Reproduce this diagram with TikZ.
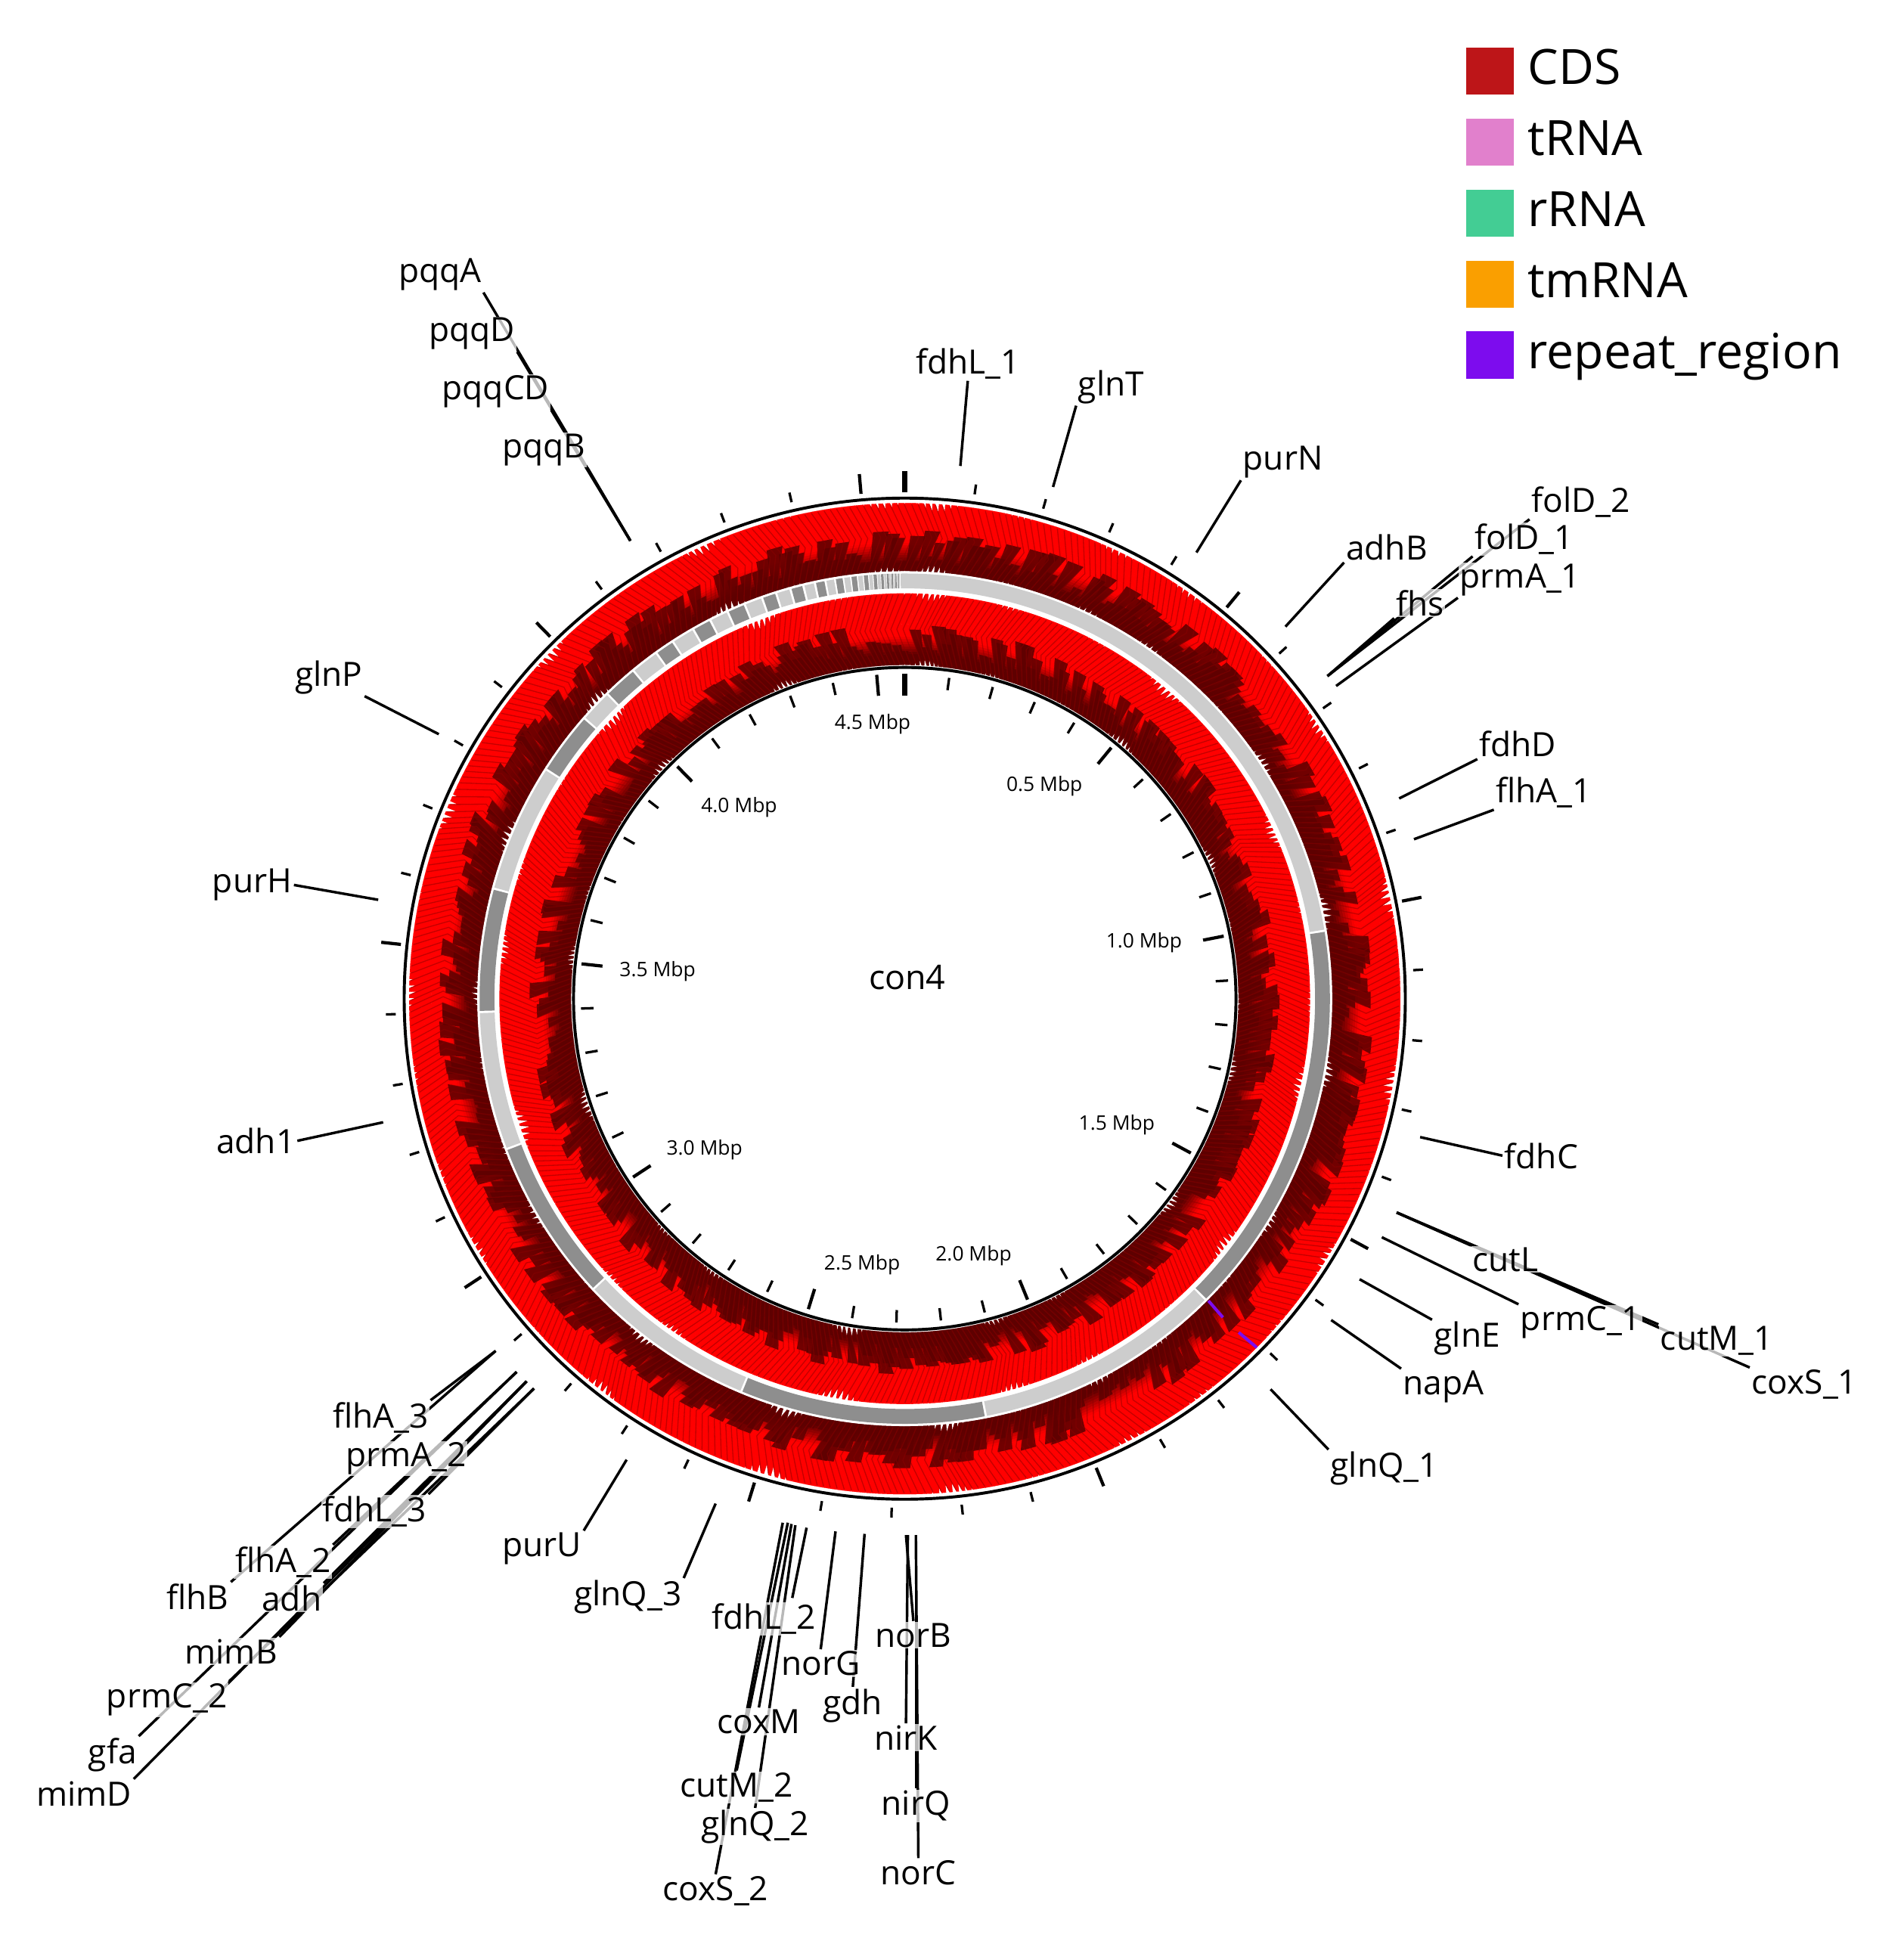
\documentclass[tikz,border=0pt]{standalone}
\usepackage{fontspec}
\setmainfont{Open Sans}
\usetikzlibrary{calc}
\pgfdeclarelayer{bg}
\pgfsetlayers{bg,main}
\definecolor{cdsred}{HTML}{FF0000}
\definecolor{cdsdark}{HTML}{5E0000}
\definecolor{chevc}{HTML}{8A0000}
\definecolor{lgray}{HTML}{CDCDCD}
\definecolor{dgray}{HTML}{8E8E8E}
\definecolor{legCDS}{HTML}{BD1518}
\definecolor{legtRNA}{HTML}{E180CC}
\definecolor{legrRNA}{HTML}{43CD94}
\definecolor{legtmRNA}{HTML}{FA9F00}
\definecolor{legrep}{HTML}{7D0CEE}
\begin{document}
\begin{tikzpicture}[x=0.1mm,y=0.1mm,
  gl/.style={font=\fontsize{7.7}{9}\selectfont, inner sep=0.1mm, fill=white, fill opacity=0.72, text opacity=1},
  ld/.style={line width=0.21mm, black},
  mb/.style={font=\fontsize{4.6}{5.5}\selectfont, inner sep=0},
  tmin/.style={line width=0.2mm},
  tmaj/.style={line width=0.26mm},
  chev/.style={chevc, line width=0.08mm, opacity=0.5},
  darkpatch/.style={fill=cdsdark, fill opacity=0.88},
  legbox/.style={minimum size=3.85mm, inner sep=0, draw=none},
  legtext/.style={font=\fontsize{11.2}{13}\selectfont, inner sep=0, anchor=base west}]
\useasboundingbox (0,0) rectangle (1540,-1568);
\pgfmathsetseed{4711}

% ---------------- circular map ----------------
\begin{scope}[shift={(732,-808)}]
 % CDS rings
 \begin{scope}
  \clip
   \foreach \i [evaluate=\i as \aS using {90-(\i*0.78261+0.1*sin(\i*31.7))},
                evaluate=\i as \aN using {90-((\i+1)*0.78261+0.1*sin((\i+1)*31.7))},
                evaluate=\i as \aE using {\aN+1.8*(0.02+0.26*max(0,0.6*sin(\i*26.3)+0.4*sin(\i*11.9))^2)},
                evaluate=\i as \aT using {\aE-1.8}] in {0,...,459}
     { (\aS:346) -- (\aS:401) -- (\aE:401) -- (\aT:373.5) -- (\aE:346) -- cycle }
   \foreach \i [evaluate=\i as \aS using {90-(\i*0.81818+0.1*sin(\i*29.3))-2.2*(0.02+0.24*max(0,0.6*sin(\i*23.7)+0.4*sin(\i*9.7))^2)},
                evaluate=\i as \aE using {90-((\i+1)*0.81818+0.1*sin((\i+1)*29.3))},
                evaluate=\i as \aT using {\aS+2.2}] in {0,...,439}
     { (\aE:270) -- (\aE:328) -- (\aS:328) -- (\aT:299) -- (\aS:270) -- cycle };
  % base radial colouring
  \foreach \r in {268,270,...,404}{
    \pgfmathsetmacro\p{\r<337 ? min(100,max(0,(\r-279)*100/14)) : min(100,max(0,(\r-353)*100/16))}
    \draw[line width=0.23mm, color=cdsred!\p!cdsdark] (0,0) circle (\r);
  }
  % irregular dark feather patches (outer ring, forward strand)
  \foreach \i [evaluate=\i as \aS using {90-(\i*0.78261+0.1*sin(\i*31.7))},
               evaluate=\i as \aN using {90-((\i+1)*0.78261+0.1*sin((\i+1)*31.7))},
               evaluate=\i as \aE using {\aN+1.8*(0.02+0.26*max(0,0.6*sin(\i*26.3)+0.4*sin(\i*11.9))^2)},
               evaluate=\i as \rb using {351+29*rnd},
               evaluate=\i as \ax using {\aE-1.8*(\rb-346)/27.5},
               evaluate=\i as \ay using {\aS-0.7*(\rb-346)/27.5}] in {0,...,459}
    { \path[darkpatch] (\aS:346) -- (\ay:\rb) -- (\ax:\rb) -- (\aE:346) -- cycle; }
  % irregular dark feather patches (inner ring, reverse strand)
  \foreach \i [evaluate=\i as \aS using {90-(\i*0.81818+0.1*sin(\i*29.3))-2.2*(0.02+0.24*max(0,0.6*sin(\i*23.7)+0.4*sin(\i*9.7))^2)},
               evaluate=\i as \aE using {90-((\i+1)*0.81818+0.1*sin((\i+1)*29.3))},
               evaluate=\i as \rb using {275+29*rnd},
               evaluate=\i as \ax using {\aS+2.2*(\rb-270)/29},
               evaluate=\i as \ay using {\aE+0.85*(\rb-270)/29}] in {0,...,439}
    { \path[darkpatch] (\aE:270) -- (\ay:\rb) -- (\ax:\rb) -- (\aS:270) -- cycle; }
 \end{scope}
 % chevron texture
 \foreach \i [evaluate=\i as \aN using {90-((\i+1)*0.78261+0.1*sin((\i+1)*31.7))},
              evaluate=\i as \aE using {\aN+1.8*(0.02+0.26*max(0,0.6*sin(\i*26.3)+0.4*sin(\i*11.9))^2)},
              evaluate=\i as \aT using {\aE-1.8}] in {0,...,459}
   { \draw[chev] (\aE:400) -- (\aT:373.5) -- (\aE:347); }
 \foreach \i [evaluate=\i as \aS using {90-(\i*0.81818+0.1*sin(\i*29.3))-2.2*(0.02+0.24*max(0,0.6*sin(\i*23.7)+0.4*sin(\i*9.7))^2)},
              evaluate=\i as \aT using {\aS+2.2}] in {0,...,439}
   { \draw[chev] (\aS:327) -- (\aT:299) -- (\aS:271); }

 % backbone / contig ring
 \foreach \s/\e/\c in {359.3/440.8/lgray, 80.8/135/dgray, 135/169/lgray, 169/202.6/dgray,
    202.6/227/lgray, 227/249.3/dgray, 249.3/268.2/lgray, 268.2/285/dgray, 285/302.6/lgray,
    302.6/311.2/dgray, 311.2/315.7/lgray, 315.7/320.4/dgray, 320.4/324.3/lgray,
    324.3/327/dgray, 327/330.2/lgray, 330.2/332.8/dgray, 332.8/335.4/lgray,
    335.4/337.9/dgray, 337.9/340.4/lgray, 340.4/342.4/dgray,
    342.4/344.4/lgray, 344.4/346.2/dgray, 346.2/347.8/lgray, 347.8/349.25/dgray,
    349.25/350.55/lgray, 350.55/351.7/dgray, 351.7/352.7/lgray, 352.7/353.6/dgray,
    353.6/354.4/lgray, 354.4/355.1/dgray, 355.1/355.72/lgray, 355.72/356.27/dgray,
    356.27/356.75/lgray, 356.75/357.17/dgray, 357.17/357.54/lgray, 357.54/357.87/dgray,
    357.87/358.17/lgray, 358.17/358.44/dgray, 358.44/358.68/lgray, 358.68/358.9/dgray,
    358.9/359.1/lgray, 359.1/359.28/dgray}
   { \pgfmathsetmacro\g{min(0.15,0.1*(\e-\s))}
     \draw[line width=1.2mm, color=\c] (90-\s-\g:338) arc[start angle=90-\s-\g, end angle=90-\e+\g, radius=338]; }

 % circles
 \draw[line width=0.24mm] (0,0) circle (405);
 \draw[line width=0.24mm] (0,0) circle (268);

 % ticks
 \foreach \k in {1,...,45}{
   \pgfmathsetmacro\a{90-\k*7.89}
   \pgfmathtruncatemacro\mj{mod(\k,5)==0 ? 1 : 0}
   \ifnum\mj=1
     \draw[tmaj] (\a:263) -- (\a:246);
     \draw[tmaj] (\a:410) -- (\a:426);
   \else
     \draw[tmin] (\a:262) -- (\a:252);
     \draw[tmin] (\a:412) -- (\a:420);
   \fi
 }
 \draw[line width=0.42mm] (90:263) -- (90:245);
 \draw[line width=0.42mm] (90:410) -- (90:427);
\end{scope}

% repeat regions
\draw[legrep, line width=0.25mm] (977.7,-1052.4) -- (989.4,-1065.9);
\draw[legrep, line width=0.25mm] (1002.2,-1078) -- (1016.9,-1090.3);

% centre and scale labels
\node[font=\fontsize{7.8}{9}\selectfont, inner sep=0] (con4) at (734,-791) {con4};
\node[mb] (m45) at (706,-586) {4.5 Mbp};
\node[mb] (m05) at (845,-636) {0.5 Mbp};
\node[mb] (m10) at (925.6,-762.6) {1.0 Mbp};
\node[mb] (m15) at (903.5,-910) {1.5 Mbp};
\node[mb] (m20) at (787.7,-1016) {2.0 Mbp};
\node[mb] (m25) at (697.5,-1023) {2.5 Mbp};
\node[mb] (m30) at (570,-930) {3.0 Mbp};
\node[mb] (m35) at (532,-786) {3.5 Mbp};
\node[mb] (m40) at (598,-653) {4.0 Mbp};

% ---------------- gene labels ----------------
\node[gl] (fdhL1) at (783,-294) {fdhL\_1};
\node[gl] (glnT) at (899,-313) {glnT};
\node[gl] (purN) at (1038,-374) {purN};
\node[gl] (adhB) at (1122,-443) {adhB};
\node[gl] (folD2) at (1279,-406) {folD\_2};
\node[gl] (folD1) at (1233,-436) {folD\_1};
\node[gl] (prmA1) at (1230,-469) {prmA\_1};
\node[gl] (fhs) at (1149,-488) {fhs};
\node[gl] (fdhD) at (1228,-602) {fdhD};
\node[gl] (flhA1) at (1249,-641) {flhA\_1};
\node[gl] (fdhC) at (1247,-935) {fdhC};
\node[gl] (cutL) at (1218,-1019) {cutL};
\node[gl] (cutM1) at (1389,-1085) {cutM\_1};
\node[gl] (coxS1) at (1460,-1120) {coxS\_1};
\node[gl] (prmC1) at (1279,-1070) {prmC\_1};
\node[gl] (glnE) at (1187,-1083) {glnE};
\node[gl] (napA) at (1168,-1122) {napA};
\node[gl] (glnQ1) at (1120,-1188) {glnQ\_1};
\node[gl] (glnQ3) at (508,-1292) {glnQ\_3};
\node[gl] (purU) at (438.6,-1253) {purU};
\node[gl] (fdhL2) at (618,-1310) {fdhL\_2};
\node[gl] (norG) at (664,-1346) {norG};
\node[gl] (gdh) at (690,-1380) {gdh};
\node[gl] (norB) at (739,-1323) {norB};
\node[gl] (coxM) at (614,-1393) {coxM};
\node[gl] (nirK) at (733,-1406) {nirK};
\node[gl] (cutM2) at (596,-1446) {cutM\_2};
\node[gl] (glnQ2) at (611,-1478) {glnQ\_2};
\node[gl] (nirQ) at (741,-1461) {nirQ};
\node[gl] (coxS2) at (579,-1530) {coxS\_2};
\node[gl] (norC) at (743,-1515) {norC};
\node[gl] (pqqA) at (356,-222) {pqqA};
\node[gl] (pqqD) at (382,-270) {pqqD};
\node[gl] (pqqCD) at (401,-317) {pqqCD};
\node[gl] (pqqB) at (440,-364) {pqqB};
\node[gl] (glnP) at (266,-548) {glnP};
\node[gl] (purH) at (204,-716) {purH};
\node[gl] (adh1) at (207,-923) {adh1};
\node[gl] (flhA3) at (308,-1147) {flhA\_3};
\node[gl] (prmA2) at (328.5,-1180) {prmA\_2};
\node[gl] (fdhL3) at (303,-1223) {fdhL\_3};
\node[gl] (flhA2) at (229,-1264) {flhA\_2};
\node[gl] (flhB) at (160,-1292) {flhB};
\node[gl] (adh) at (236,-1293) {adh};
\node[gl] (mimB) at (187,-1336) {mimB};
\node[gl] (prmC2) at (135,-1375) {prmC\_2};
\node[gl] (gfa) at (91,-1420) {gfa};
\node[gl] (mimD) at (68,-1451) {mimD};

% line start points
\coordinate (s-fdhL1) at (777,-377);
\coordinate (s-glnT) at (852,-394);
\coordinate (s-purN) at (968,-447);
\coordinate (s-adhB) at (1040,-507);
\coordinate (s-fhs) at (1074,-547);
\coordinate (s-prmA1) at (1081,-555);
\coordinate (s-fdhD) at (1132,-646);
\coordinate (s-flhA1) at (1144,-679);
\coordinate (s-fdhC) at (1149,-920);
\coordinate (s-cutL) at (1130,-981);
\coordinate (s-prmC1) at (1118,-1001);
\coordinate (s-glnE) at (1100,-1035);
\coordinate (s-napA) at (1077,-1068);
\coordinate (s-glnQ1) at (1028,-1124);
\coordinate (s-glnQ3) at (579,-1216.5);
\coordinate (s-purU) at (507,-1181);
\coordinate (s-a) at (633.3,-1232);
\coordinate (s-b) at (637.4,-1232);
\coordinate (s-c) at (640.4,-1233);
\coordinate (s-d) at (643.5,-1234);
\coordinate (s-e) at (652.6,-1236);
\coordinate (s-norG) at (676,-1239);
\coordinate (s-gdh) at (699.5,-1241);
\coordinate (s-norB) at (733,-1242);
\coordinate (s-nirK) at (734.5,-1242);
\coordinate (s-nirQ) at (741,-1242);
\coordinate (s-pqq) at (510,-437.5);
\coordinate (s-glnP) at (355,-594);
\coordinate (s-purH) at (306,-728);
\coordinate (s-adh1) at (310,-908);
\coordinate (s-rA) at (401,-1093);
\coordinate (s-rB) at (418,-1110);
\coordinate (s-rC) at (426,-1117.6);
\coordinate (s-rD) at (432,-1123.4);

\begin{pgfonlayer}{bg}
 \draw[ld] (s-fdhL1) -- (fdhL1.south);
 \draw[ld] (s-glnT) -- (glnT.south west);
 \draw[ld] (s-purN) -- (purN.south west);
 \draw[ld] (s-adhB) -- (adhB.south west);
 \draw[ld] (s-fhs) -- (fhs.south west);
 \draw[ld] (s-fhs) -- (folD1.south west);
 \draw[ld] (s-fhs) -- (folD2.south west);
 \draw[ld] (s-prmA1) -- (prmA1.south west);
 \draw[ld] (s-fdhD) -- (fdhD.south west);
 \draw[ld] (s-flhA1) -- (flhA1.south west);
 \draw[ld] (s-fdhC) -- (fdhC.west);
 \draw[ld] (s-cutL) -- (cutL.north west);
 \draw[ld] (s-cutL) -- (cutM1.north west);
 \draw[ld] (s-cutL) -- (coxS1.north west);
 \draw[ld] (s-prmC1) -- (prmC1.north west);
 \draw[ld] (s-glnE) -- (glnE.north west);
 \draw[ld] (s-napA) -- (napA.north west);
 \draw[ld] (s-glnQ1) -- (glnQ1.north west);
 \draw[ld] (s-glnQ3) -- (glnQ3.north east);
 \draw[ld] (s-purU) -- (purU.north east);
 \draw[ld] (s-a) -- (coxS2.north);
 \draw[ld] (s-b) -- (cutM2.north);
 \draw[ld] (s-c) -- (coxM.north);
 \draw[ld] (s-d) -- (glnQ2.north);
 \draw[ld] (s-e) -- ($(fdhL2.north)+(23,3)$);
 \draw[ld] (s-norG) -- (norG.north);
 \draw[ld] (s-gdh) -- (gdh.north);
 \draw[ld] (s-norB) -- (norB.north);
 \draw[ld] (s-nirK) -- (nirK.north);
 \draw[ld] (s-nirQ) -- (nirQ.north);
 \draw[ld] (s-nirQ) -- (norC.north);
 \draw[ld] (s-pqq) -- (pqqB.south east);
 \draw[ld] (s-pqq) -- (pqqCD.south east);
 \draw[ld] (s-pqq) -- (pqqD.south east);
 \draw[ld] (s-pqq) -- (pqqA.south east);
 \draw[ld] (s-glnP) -- (glnP.south east);
 \draw[ld] (s-purH) -- (purH.east);
 \draw[ld] (s-adh1) -- (adh1.east);
 \draw[ld] (s-rA) -- (flhA3.north east);
 \draw[ld] (s-rA) -- (flhB.north east);
 \draw[ld] (s-rB) -- (flhA2.north east);
 \draw[ld] (s-rB) -- (gfa.north east);
 \draw[ld] (s-rC) -- (prmA2.north east);
 \draw[ld] (s-rC) -- (adh.north east);
 \draw[ld] (s-rC) -- (mimB.north east);
 \draw[ld] (s-rC) -- (mimD.north east);
 \draw[ld] (s-rD) -- (fdhL3.north east);
 \draw[ld] (s-rD) -- (prmC2.north east);
\end{pgfonlayer}

% ---------------- legend ----------------
\node[legbox, fill=legCDS] (lb1) at (1205.3,-57.5) {};
\node[legbox, fill=legtRNA] (lb2) at (1205.3,-115) {};
\node[legbox, fill=legrRNA] (lb3) at (1205.3,-172.5) {};
\node[legbox, fill=legtmRNA] (lb4) at (1205.3,-230) {};
\node[legbox, fill=legrep] (lb5) at (1205.3,-287.5) {};
\node[legtext] (lt1) at (1235.5,-68.5) {CDS};
\node[legtext] (lt2) at (1235.5,-126) {tRNA};
\node[legtext] (lt3) at (1235.5,-183.5) {rRNA};
\node[legtext] (lt4) at (1235.5,-241) {tmRNA};
\node[legtext] (lt5) at (1235.5,-298.5) {repeat\_region};
\end{tikzpicture}
\end{document}
